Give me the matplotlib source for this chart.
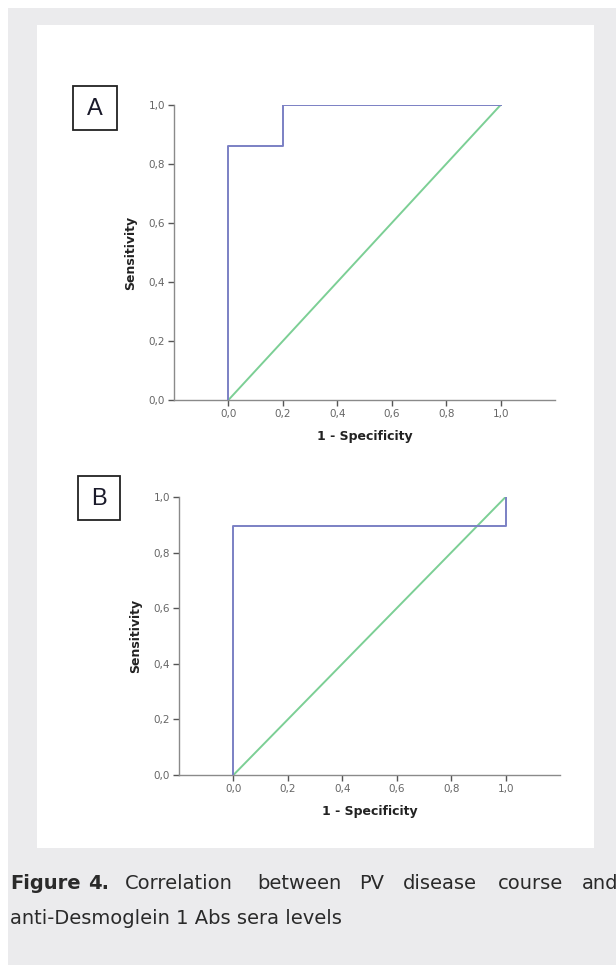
import matplotlib.pyplot as plt
from matplotlib.patches import Rectangle

# ROC curve A
fpr_a = [0.0, 0.0, 0.2, 0.2, 1.0]
tpr_a = [0.0, 0.86, 0.86, 1.0, 1.0]
# ROC curve B
fpr_b = [0.0, 0.0, 1.0, 1.0]
tpr_b = [0.0, 0.895, 0.895, 1.0]
ref_line = [0.0, 1.0]

ticks = [0.0, 0.2, 0.4, 0.6, 0.8, 1.0]
tick_labels = ['0,0', '0,2', '0,4', '0,6', '0,8', '1,0']

W, H = 616, 965
fig = plt.figure(figsize=(W / 100, H / 100), dpi=100)
fig.patch.set_facecolor('white')

def px_rect(x0, y0, x1, y1):
    return [x0 / W, 1 - y1 / H, (x1 - x0) / W, (y1 - y0) / H]

bg = fig.add_axes([0, 0, 1, 1])
bg.set_xlim(0, W)
bg.set_ylim(H, 0)
bg.axis('off')
bg.add_patch(Rectangle((8, 8), W - 8, H - 8, facecolor='#ebebed', edgecolor='none'))
bg.add_patch(Rectangle((37, 25), 594 - 37, 848 - 25, facecolor='white', edgecolor='none'))

blue = '#7b80c4'
green = '#7ccf95'
grey = '#8a8a8a'

def roc_panel(rect, fpr, tpr, letter, box):
    ax = fig.add_axes(rect)
    ax.plot(ref_line, ref_line, color=green, lw=1.4, zorder=2)
    ax.plot(fpr, tpr, color=blue, lw=1.4, zorder=3)
    ax.set_xlim(-0.2, 1.2)
    ax.set_ylim(0, 1.0)
    ax.set_xticks(ticks)
    ax.set_xticklabels(tick_labels)
    ax.set_yticks(ticks)
    ax.set_yticklabels(tick_labels)
    for s in ['top', 'right']:
        ax.spines[s].set_visible(False)
    for s in ['left', 'bottom']:
        ax.spines[s].set_color(grey)
        ax.spines[s].set_linewidth(1.0)
    ax.tick_params(axis='both', length=4.5, width=1.0, color='#555555',
                   labelsize=7.5, labelcolor='#666666', pad=2)
    ax.set_xlabel('1 - Specificity', fontsize=9, fontweight='bold', labelpad=8,
                  color='#222222')
    ax.set_ylabel('Sensitivity', fontsize=9, fontweight='bold', labelpad=8,
                  color='#222222')
    ax.patch.set_alpha(0)
    bx0, by0, bx1, by1 = box
    bg.add_patch(Rectangle((bx0, by0), bx1 - bx0, by1 - by0, facecolor='white',
                           edgecolor='#222222', lw=1.3))
    bg.text((bx0 + bx1) / 2, (by0 + by1) / 2 + 1, letter, ha='center', va='center',
            fontsize=17, family='Liberation Sans', color='#1a1a2a')
    return ax

roc_panel(px_rect(174, 105, 555, 400), fpr_a, tpr_a, 'A', (73, 86, 117, 130))
roc_panel(px_rect(179, 497, 560, 775), fpr_b, tpr_b, 'B', (78, 476, 120, 520))

# caption, justified word by word (the last word runs off the edge, as in the source)
cap_font = dict(fontsize=14, family='DejaVu Sans', color='#2a2a2a', va='baseline')
line1 = [('Figure', 10, 'bold'), ('4.', 88, 'bold'), ('Correlation', 125, 'normal'),
         ('between', 257, 'normal'), ('PV', 359, 'normal'), ('disease', 403, 'normal'),
         ('course', 498, 'normal'), ('and', 582, 'normal')]
for word, x, wt in line1:
    bg.text(x, 889, word, fontweight=wt, **cap_font)
bg.text(10, 924, 'anti-Desmoglein 1 Abs sera levels', **cap_font)

fig.savefig('out.png', dpi=100)
